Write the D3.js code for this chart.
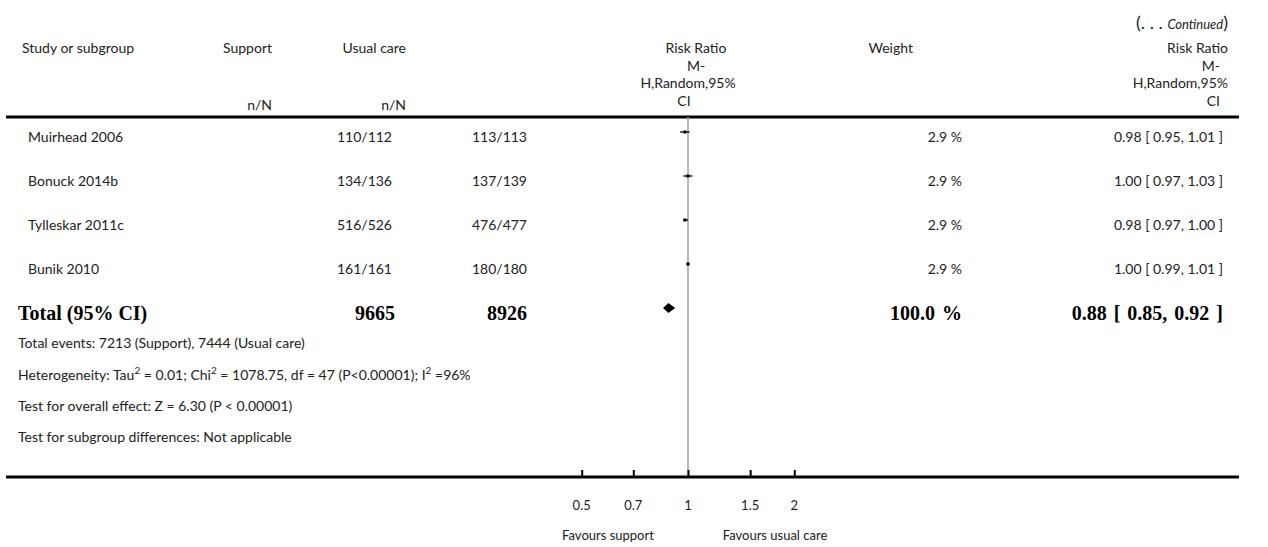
<!DOCTYPE html>
<html>
<head>
<meta charset="utf-8">
<script src="https://cdn.jsdelivr.net/npm/d3@7"></script>
<style>
    body { margin: 0; background: #fff; }
    svg text { font-family: Lato, "Open Sans", sans-serif; fill: #222; }
    .bold text { font-family: "Liberation Serif", "DejaVu Serif", serif; font-weight: bold; fill: #000; }
</style>
</head>
<body>
<div id="chart"></div>
<script>
// study rows
const studies = ['Muirhead 2006', 'Bonuck 2014b', 'Tylleskar 2011c', 'Bunik 2010'];
const supportNN = ['110/112', '134/136', '516/526', '161/161'];
const usualNN = ['113/113', '137/139', '476/477', '180/180'];
const weights = [2.9, 2.9, 2.9, 2.9];
const rr = [0.98, 1.00, 0.98, 1.00];
const rrLow = [0.95, 0.97, 0.97, 0.99];
const rrHigh = [1.01, 1.03, 1.00, 1.01];

// pooled result
const totalSupport = 9665;
const totalUsual = 8926;
const totalWeight = 100.0;
const totalRR = [0.88, 0.85, 0.92];

const tickValues = [0.5, 0.7, 1, 1.5, 2];
const tickLabels = ['0.5', '0.7', '1', '1.5', '2'];

const footnotes = [
    [['Total events: 7213 (Support), 7444 (Usual care)']],
    [['Heterogeneity: Tau'], ['2', 'sup'], [' = 0.01; Chi'], ['2', 'sup'], [' = 1078.75, df = 47 (P<0.00001); I'], ['2', 'sup'], [' =96%']],
    [['Test for overall effect: Z = 6.30 (P < 0.00001)']],
    [['Test for subgroup differences: Not applicable']]
];

const W = 1268, H = 547;
const FS = '14px';
const svg = d3.select('#chart')
    .append('svg')
    .attr('width', W)
    .attr('height', H);

const x = d3.scaleLog()
    .domain([0.5, 2])
    .range([581.7, 794.3]);

const rowY = d3.scalePoint()
    .domain(studies)
    .range([132, 264]);

const fmt2 = d3.format('.2f');

// header
const hdr = svg.append('g');
const cont = hdr.append('text')
    .attr('x', 1228).attr('y', 29)
    .attr('text-anchor', 'end');
cont.append('tspan').style('font-size', '18px').text('(. . . ');
cont.append('tspan').style('font-size', '13px').style('font-style', 'italic').text('Continued');
cont.append('tspan').style('font-size', '18px').text(')');

hdr.append('text').attr('x', 22).attr('y', 53).style('font-size', FS).text('Study or subgroup');
hdr.append('text').attr('x', 272).attr('y', 53).attr('text-anchor', 'end').style('font-size', FS).text('Support');
hdr.append('text').attr('x', 272).attr('y', 110).attr('text-anchor', 'end').style('font-size', FS).text('n/N');
hdr.append('text').attr('x', 406).attr('y', 53).attr('text-anchor', 'end').style('font-size', FS).text('Usual care');
hdr.append('text').attr('x', 406).attr('y', 110).attr('text-anchor', 'end').style('font-size', FS).text('n/N');
hdr.append('text').attr('x', 913).attr('y', 53).attr('text-anchor', 'end').style('font-size', FS).text('Weight');

const rrHeader = [['Risk Ratio', 53], ['M-', 71], ['H,Random,95%', 88], ['CI', 106]];
const midOffsets = [8, 8, 0, -4];
rrHeader.forEach((d, i) => {
    hdr.append('text')
        .attr('x', 688 + midOffsets[i]).attr('y', d[1])
        .attr('text-anchor', 'middle')
        .style('font-size', FS)
        .text(d[0]);
});
const rightEnds = [1228, 1220, 1228, 1220];
rrHeader.forEach((d, i) => {
    hdr.append('text')
        .attr('x', rightEnds[i]).attr('y', d[1])
        .attr('text-anchor', 'end')
        .style('font-size', FS)
        .text(d[0]);
});

// rules
svg.append('line')
    .attr('x1', 6).attr('x2', 1239)
    .attr('y1', 117).attr('y2', 117)
    .attr('stroke', '#000').attr('stroke-width', 3);

// line of no effect
svg.append('line')
    .attr('x1', x(1)).attr('x2', x(1))
    .attr('y1', 117).attr('y2', 477)
    .attr('stroke', '#a0a0a0').attr('stroke-width', 1.5);

// study rows
const rows = svg.selectAll('.row')
    .data(studies)
    .enter()
    .append('g')
    .attr('class', 'row')
    .attr('transform', d => `translate(0,${rowY(d)})`);

rows.append('text').attr('x', 28).attr('y', 10).style('font-size', FS).text(d => d);
rows.append('text').attr('x', 392).attr('y', 10).attr('text-anchor', 'end').style('font-size', FS).text((d, i) => supportNN[i]);
rows.append('text').attr('x', 527).attr('y', 10).attr('text-anchor', 'end').style('font-size', FS).text((d, i) => usualNN[i]);
rows.append('text').attr('x', 962).attr('y', 10).attr('text-anchor', 'end').style('font-size', FS).text((d, i) => `${weights[i].toFixed(1)} %`);
rows.append('text').attr('x', 1223).attr('y', 10).attr('text-anchor', 'end').style('font-size', FS)
    .text((d, i) => `${fmt2(rr[i])} [ ${fmt2(rrLow[i])}, ${fmt2(rrHigh[i])} ]`);

// confidence intervals and squares
rows.append('line')
    .attr('x1', (d, i) => x(rrLow[i]))
    .attr('x2', (d, i) => x(rrHigh[i]))
    .attr('y1', 0).attr('y2', 0)
    .attr('stroke', '#000').attr('stroke-width', 1.3);
rows.append('rect')
    .attr('x', (d, i) => x(rr[i]) - 1.5)
    .attr('y', -1.5)
    .attr('width', 3).attr('height', 3)
    .attr('fill', '#000');

// total row
const totY = 308;
const tot = svg.append('g').attr('class', 'bold').style('font-size', '20px');
tot.append('text').attr('x', 18).attr('y', totY + 12).text('Total (95% CI)');
tot.append('text').attr('x', 395).attr('y', totY + 12).attr('text-anchor', 'end').text(totalSupport);
tot.append('text').attr('x', 527).attr('y', totY + 12).attr('text-anchor', 'end').text(totalUsual);
tot.append('text').attr('x', 962).attr('y', totY + 12).attr('text-anchor', 'end')
    .style('word-spacing', '2px')
    .text(`${totalWeight.toFixed(1)} %`);
tot.append('text').attr('x', 1223).attr('y', totY + 12).attr('text-anchor', 'end')
    .style('word-spacing', '2px')
    .text(`${fmt2(totalRR[0])} [ ${fmt2(totalRR[1])}, ${fmt2(totalRR[2])} ]`);

svg.append('path')
    .attr('d', `M${x(totalRR[1])},${totY} L${x(totalRR[0])},${totY - 5} L${x(totalRR[2])},${totY} L${x(totalRR[0])},${totY + 5} Z`)
    .attr('fill', '#000');

// footnotes
const footY = [348, 380, 411, 442];
footnotes.forEach((parts, i) => {
    const t = svg.append('text').attr('x', 18).attr('y', footY[i]).style('font-size', FS);
    parts.forEach(p => {
        const s = t.append('tspan').text(p[0]);
        if (p[1] === 'sup') s.attr('baseline-shift', 'super').style('font-size', '10px');
    });
});

// axis
svg.append('line')
    .attr('x1', 6).attr('x2', 1239)
    .attr('y1', 477).attr('y2', 477)
    .attr('stroke', '#000').attr('stroke-width', 3);

const axis = svg.append('g')
    .attr('transform', 'translate(0,476)')
    .call(d3.axisTop(x).tickValues(tickValues).tickFormat(() => '').tickSize(6).tickSizeOuter(0));
axis.select('.domain').remove();
axis.selectAll('.tick line').attr('stroke', '#000').attr('stroke-width', 2);

svg.selectAll('.ticklabel')
    .data(tickValues)
    .enter()
    .append('text')
    .attr('class', 'ticklabel')
    .attr('x', d => x(d))
    .attr('y', 510)
    .attr('text-anchor', 'middle')
    .style('font-size', '13px')
    .text((d, i) => tickLabels[i]);

svg.append('text').attr('x', 608).attr('y', 540).attr('text-anchor', 'middle').style('font-size', '13px').text('Favours support');
svg.append('text').attr('x', 775).attr('y', 540).attr('text-anchor', 'middle').style('font-size', '13px').text('Favours usual care');
</script>
</body>
</html>
